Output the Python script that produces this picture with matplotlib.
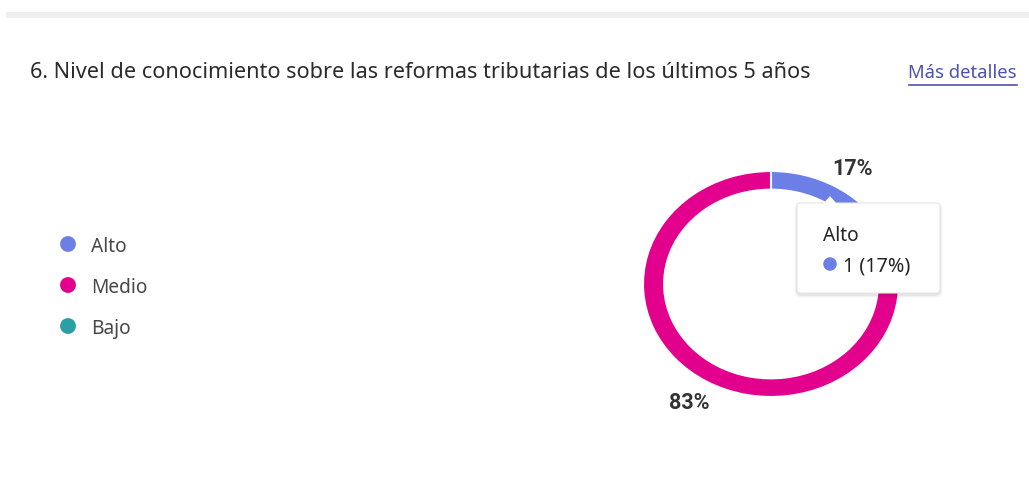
import matplotlib.pyplot as plt
from matplotlib.patches import FancyBboxPatch, Rectangle, Polygon

plt.rcParams['font.family'] = ['Noto Sans', 'DejaVu Sans']

title = "6. Nivel de conocimiento sobre las reformas tributarias de los últimos 5 años"
link_text = "Más detalles"
categories = ["Alto", "Medio", "Bajo"]
counts = [1, 5, 0]
colors = ['#6b7fe6', '#e3008c', '#2aa0a4']
pct_labels = ["17%", "83%"]
tip_title = "Alto"
tip_value = "1 (17%)"

W, H = 1029, 481
fig = plt.figure(figsize=(W / 100, H / 100), dpi=100)
fig.patch.set_facecolor('white')

# donut (slightly wider than tall, like the screenshot)
cx, cy, rx, ry = 771, 285, 128, 113
ax = fig.add_axes([(cx - rx) / W, (H - cy - ry) / H, 2 * rx / W, 2 * ry / H])
vals = [v for v in counts if v > 0]
cols = [c for v, c in zip(counts, colors) if v > 0]
ax.pie(vals, colors=cols, startangle=90, counterclock=False, radius=1.0,
       wedgeprops=dict(width=0.165, edgecolor='white', linewidth=1.5))
ax.set_aspect('auto')
ax.set_xlim(-1, 1)
ax.set_ylim(-1, 1)
ax.axis('off')

# overlay in pixel coordinates
ov = fig.add_axes([0, 0, 1, 1], zorder=5)
ov.set_xlim(0, W)
ov.set_ylim(H, 0)
ov.axis('off')
ov.patch.set_alpha(0)

ov.add_patch(Rectangle((6, 13), W - 6, 6, facecolor='#efefef', edgecolor='none'))
ov.text(30, 73, title, fontsize=15.6, color='#2b2b2b', va='center', ha='left')
ov.text(1017, 73, link_text, fontsize=13.3, color='#4f52b2', va='center', ha='right')
ov.plot([909, 1017], [86, 86], color='#4f52b2', lw=1.2)

# legend
for i, (cat, col) in enumerate(zip(categories, colors)):
    y = 245 + i * 41
    ov.scatter([68], [y], s=130, color=col, edgecolor='none')
    ov.text(91, y + 2, cat, fontsize=13.8, color='#484848', va='center', ha='left')

# percentage labels
ov.text(853, 169, pct_labels[0], fontsize=15.5, fontweight='bold', color='#333333',
        family='Roboto', ha='center', va='center')
ov.text(689, 403, pct_labels[1], fontsize=15.5, fontweight='bold', color='#333333',
        family='Roboto', ha='center', va='center')

# tooltip with soft shadow
bx, by, bw, bh = 797, 204, 143, 90
for k, a in [(6, 0.02), (4, 0.03), (2, 0.05)]:
    ov.add_patch(FancyBboxPatch((bx - k / 2, by - k / 2 + 2), bw + k, bh + k,
                                boxstyle='round,pad=0,rounding_size=6',
                                facecolor='black', edgecolor='none', alpha=a))
ov.add_patch(FancyBboxPatch((bx, by), bw, bh, boxstyle='round,pad=0,rounding_size=4',
                            facecolor='white', edgecolor='#e6e6e6', lw=0.8))
ov.add_patch(Polygon([[823, 205], [830, 197], [837, 205]], closed=True,
                     facecolor='white', edgecolor='none'))
ov.text(823, 236, tip_title, fontsize=13.8, color='#242424', va='center', ha='left')
ov.scatter([830], [265], s=95, color=colors[0], edgecolor='none')
ov.text(843, 267, tip_value, fontsize=14.2, color='#242424', va='center', ha='left')

fig.savefig('out.png', dpi=100, facecolor='white')
